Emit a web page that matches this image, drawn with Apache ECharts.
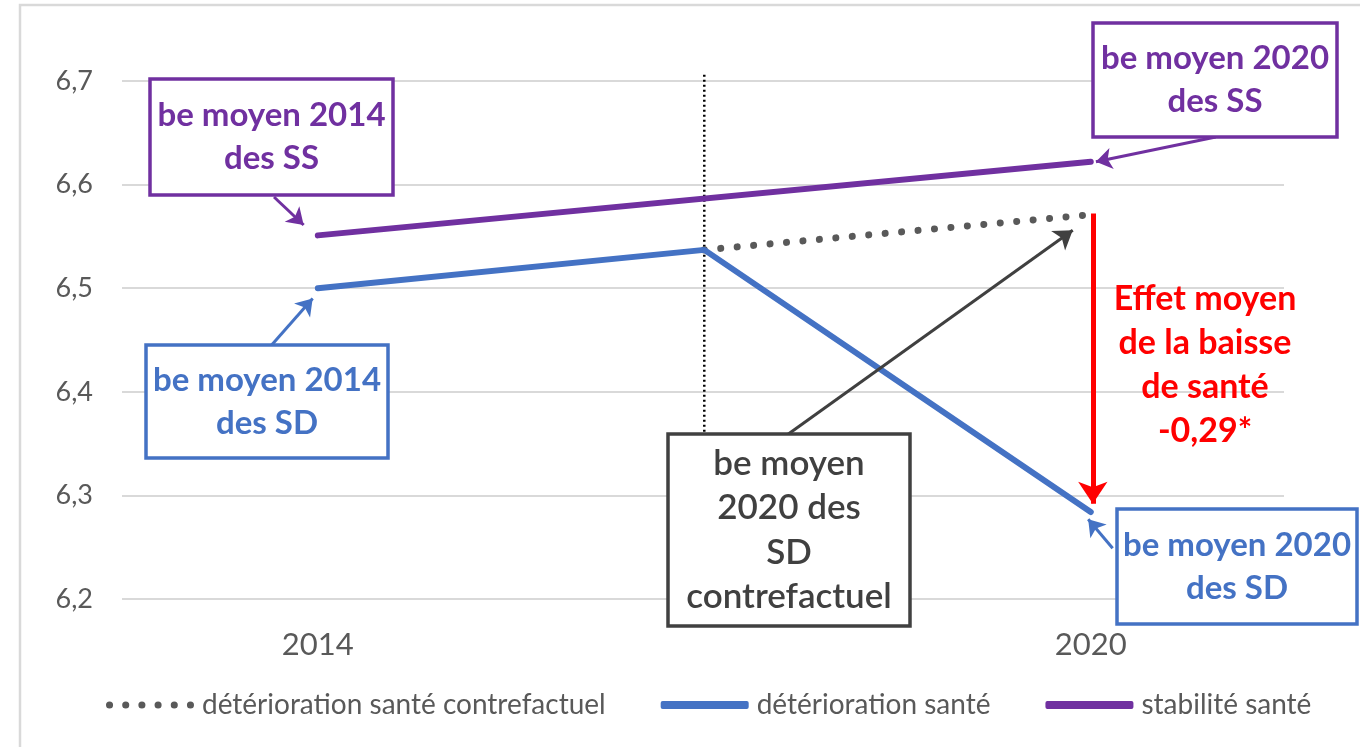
<!DOCTYPE html>
<html>
<head>
<meta charset="utf-8">
<script src="https://cdn.jsdelivr.net/npm/echarts@6/dist/echarts.min.js"></script>
<style>
  html, body { margin: 0; padding: 0; background: #fff; }
  #chart { width: 1360px; height: 747px; }
</style>
</head>
<body>
<div id="chart"></div>
<script>
// données
const years = [2014, 2017, 2020];
const contrefactuel = [null, 6.537, 6.571];
const deterioration = [6.5, 6.537, 6.284];
const stabilite = [6.551, null, 6.622];
const separateur = [[2017, 6.706], [2017, 6.36]];
const yTicks = [6.2, 6.3, 6.4, 6.5, 6.6, 6.7];
const xLabels = [2014, 2020];

const FONT = 'Lato, "Noto Sans", sans-serif';
const PURPLE = '#7030A0';
const BLUE = '#4472C4';
const GREY = '#404040';
const RED = '#FF0000';

function pairs(vals) {
  const out = [];
  for (let i = 0; i < years.length; i++) {
    if (vals[i] !== null) out.push([years[i], vals[i]]);
  }
  return out;
}

// flèches (en coordonnées du graphique)
function arrow(from, to, color, width, size) {
  return [
    { coord: from, symbol: 'none', lineStyle: { color: color, width: width, type: 'solid' } },
    { coord: to, symbol: 'arrow', symbolSize: size }
  ];
}

function box(x, y, w, h, color, lines, lh, font) {
  return {
    type: 'group',
    z: 100,
    children: [
      {
        type: 'rect',
        z: 100,
        shape: { x: x, y: y, width: w, height: h },
        style: { fill: '#fff', stroke: color, lineWidth: 3.5 }
      },
      {
        type: 'text',
        z: 101,
        x: x + w / 2,
        y: y + h / 2,
        style: {
          text: lines.join('\n'),
          fill: color,
          font: font,
          lineHeight: lh,
          align: 'center',
          verticalAlign: 'middle'
        }
      }
    ]
  };
}

// icône pointillée de la légende
let dots = '';
for (let i = 0; i < 6; i++) {
  const cx = 4 + i * 16;
  dots += 'M' + (cx - 3.5) + ' 4a3.5 3.5 0 1 0 7 0a3.5 3.5 0 1 0 -7 0Z';
}

const chart = echarts.init(document.getElementById('chart'));
const option = {
  animation: false,
  backgroundColor: '#fff',
  grid: { left: 122, right: 76, top: 81, bottom: 148 },
  legend: {
    left: 101,
    top: 686,
    itemWidth: 88,
    itemHeight: 8,
    itemGap: 55,
    textStyle: { fontFamily: FONT, fontSize: 28, color: '#595959', padding: [0, 0, 0, 3] },
    data: [
      { name: 'détérioration santé contrefactuel', icon: 'path://' + dots, itemStyle: { color: '#595959' } },
      { name: 'détérioration santé', icon: 'roundRect', itemStyle: { color: BLUE } },
      { name: 'stabilité santé', icon: 'roundRect', itemStyle: { color: PURPLE } }
    ]
  },
  xAxis: {
    type: 'value',
    min: 2012.48,
    max: 2021.5,
    splitLine: { show: false },
    axisLine: { show: false },
    axisTick: { show: false },
    axisLabel: {
      customValues: xLabels,
      formatter: v => String(v),
      fontFamily: FONT,
      fontSize: 31,
      color: '#595959',
      margin: 30
    }
  },
  yAxis: {
    type: 'value',
    min: 6.2,
    max: 6.7,
    interval: 0.1,
    axisLine: { show: false },
    axisTick: { show: false },
    splitLine: { lineStyle: { color: '#d9d9d9', width: 2 } },
    axisLabel: {
      customValues: yTicks,
      formatter: v => v.toFixed(1).replace('.', ','),
      fontFamily: FONT,
      fontSize: 27,
      color: '#595959',
      margin: 29
    }
  },
  series: [
    {
      name: 'séparateur',
      type: 'line',
      data: separateur,
      clip: false,
      showSymbol: false,
      symbol: 'none',
      silent: true,
      lineStyle: { color: '#000', width: 2.5, type: [2, 3] },
      z: 3
    },
    {
      name: 'détérioration santé contrefactuel',
      type: 'line',
      data: pairs(contrefactuel),
      showSymbol: false,
      symbol: 'none',
      lineStyle: { color: '#595959', width: 7, type: [0.01, 16.5], cap: 'round' },
      itemStyle: { color: '#595959' },
      z: 3
    },
    {
      name: 'détérioration santé',
      type: 'line',
      data: pairs(deterioration),
      showSymbol: false,
      symbol: 'none',
      lineStyle: { color: BLUE, width: 6, cap: 'round' },
      itemStyle: { color: BLUE },
      z: 4
    },
    {
      name: 'stabilité santé',
      type: 'line',
      data: pairs(stabilite),
      showSymbol: false,
      symbol: 'none',
      lineStyle: { color: PURPLE, width: 6, cap: 'round' },
      itemStyle: { color: PURPLE },
      z: 4
    },
    {
      // flèches d'annotation
      name: 'annotations',
      type: 'line',
      data: [],
      clip: false,
      z: 5,
      markLine: {
        silent: true,
        animation: false,
        label: { show: false },
        emphasis: { disabled: true },
        data: [
          arrow([2013.66, 6.588], [2013.89, 6.561], PURPLE, 3, 16),
          arrow([2020.97, 6.646], [2020.04, 6.622], PURPLE, 3, 16),
          arrow([2013.64, 6.445], [2013.96, 6.490], BLUE, 3, 16),
          arrow([2017.65, 6.359], [2019.86, 6.556], GREY, 3, 18),
          arrow([2020.17, 6.249], [2019.98, 6.277], BLUE, 3, 16),
          arrow([2020.016, 6.572], [2020.016, 6.292], RED, 5, 22)
        ]
      }
    }
  ],
  graphic: [
    {
      type: 'rect',
      z: 0,
      silent: true,
      shape: { x: 20, y: 5, width: 1400, height: 800 },
      style: { fill: 'none', stroke: '#d9d9d9', lineWidth: 2.5 }
    },
    box(150, 79, 243, 116, PURPLE, ['be moyen 2014', 'des SS'], 43, 'bold 33px ' + FONT),
    box(1093, 23, 244, 114, PURPLE, ['be moyen 2020', 'des SS'], 43, 'bold 33px ' + FONT),
    box(146, 345, 242, 113, BLUE, ['be moyen 2014', 'des SD'], 43, 'bold 33px ' + FONT),
    box(668, 434, 242, 192, GREY, ['be moyen', '2020 des', 'SD', 'contrefactuel'], 44.5, '600 35px ' + FONT),
    box(1117, 509, 240, 115, BLUE, ['be moyen 2020', 'des SD'], 43, 'bold 33px ' + FONT),
    {
      type: 'text',
      z: 100,
      x: 1205,
      y: 365,
      style: {
        text: 'Effet moyen\nde la baisse\nde santé\n-0,29*',
        fill: RED,
        font: 'bold 34px ' + FONT,
        lineHeight: 43.7,
        align: 'center',
        verticalAlign: 'middle'
      }
    }
  ]
};
chart.setOption(option);
</script>
</body>
</html>
